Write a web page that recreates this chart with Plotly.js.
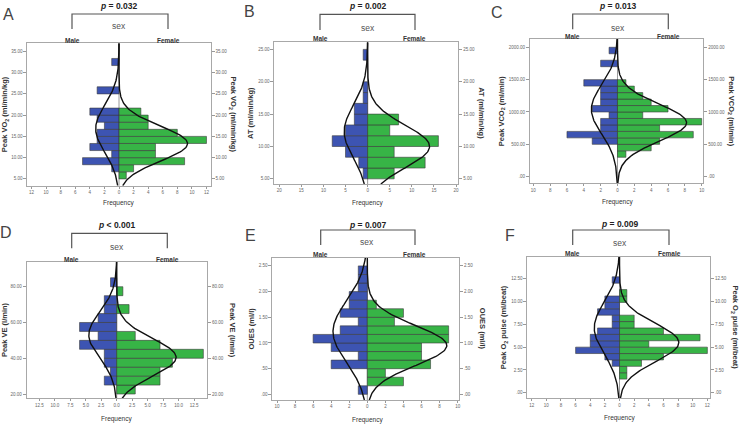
<!DOCTYPE html>
<html>
<head>
<meta charset="utf-8">
<script src="https://cdn.plot.ly/plotly-3.0.1.min.js"></script>
<style>html,body{margin:0;padding:0;background:#fff}#chart{width:741px;height:426px}</style>
</head>
<body>
<div id="chart"></div>
<script>
// A: Peak VO2 (ml/min/kg), bin centres and counts
const aBins = [5.83, 7.5, 9.17, 10.83, 12.5, 14.17, 15.83, 17.5, 19.17, 20.83, 22.5, 24.17, 25.83, 27.5, 29.17, 30.83, 32.5];
const aMale = [0, 1, 5, 1, 4, 3, 3, 2, 3, 4, 0, 0, 3, 0, 0, 0, 1];
const aFemale = [1, 2, 9, 5, 5, 12, 8, 4, 4, 3, 0, 0, 0, 0, 0, 0, 0];
// normal fit: mean, sd, peak height
const aMaleFit = [16.8, 5.6, 3.2];
const aFemaleFit = [13.3, 4.1, 9.4];

// B: AT (ml/min/kg)
const bBins = [5.83, 7.5, 9.17, 10.83, 12.5, 14.17, 15.83, 17.5, 19.17, 20.83, 22.5, 24.17];
const bMale = [1, 2, 5, 8, 5, 3, 3, 1, 1, 0, 0, 1];
const bFemale = [6, 13, 6, 16, 5, 7, 0, 0, 0, 0, 0, 0];
const bMaleFit = [12.3, 4.1, 5.3];
const bFemaleFit = [10.0, 3.3, 14.0];

// C: Peak VCO2 (ml/min)
const cBins = [350, 450, 550, 650, 750, 850, 950, 1050, 1150, 1250, 1350, 1450, 1550, 1650, 1750, 1850, 1950];
const cMale = [0, 0, 3, 6, 2, 2, 1, 3, 2, 2, 2, 4, 0, 0, 2, 0, 1];
const cFemale = [1, 4, 5, 9, 5, 10, 3, 6, 4, 3, 2, 1, 0, 0, 0, 0, 0];
const cMaleFit = [1040, 380, 3.1];
const cFemaleFit = [835, 285, 8.2];

// D: Peak VE (l/min)
const dBins = [22.5, 27.5, 32.5, 37.5, 42.5, 47.5, 52.5, 57.5, 62.5, 67.5, 72.5, 77.5, 82.5];
const dMale = [0, 2, 1, 2, 2, 6, 3, 6, 3, 2, 2, 0, 1];
const dFemale = [3, 7, 7, 9, 14, 7, 3, 0, 0, 2, 0, 1, 0];
const dMaleFit = [53, 13, 4.5];
const dFemaleFit = [40.5, 10.5, 9.6];

// E: OUES (ml/l)
const eBins = [0.083, 0.25, 0.417, 0.583, 0.75, 0.917, 1.083, 1.25, 1.417, 1.583, 1.75, 1.917, 2.083, 2.25, 2.417];
const eMale = [1, 0, 0, 4, 1, 4, 6, 3, 1, 3, 2, 2, 1, 1, 1];
const eFemale = [0, 4, 2, 7, 6, 6, 9, 9, 3, 4, 1, 0, 0, 0, 0];
const eMaleFit = [1.22, 0.6, 3.8];
const eFemaleFit = [0.95, 0.39, 8.8];

// F: Peak O2 pulse (ml/beat)
const fBins = [1.85, 2.55, 3.25, 3.95, 4.65, 5.35, 6.05, 6.75, 7.45, 8.15, 8.85, 9.55, 10.25, 10.95, 11.65, 12.35];
const fMale = [0, 0, 1, 2, 6, 4, 4, 3, 1, 1, 3, 2, 2, 0, 0, 1];
const fFemale = [1, 1, 3, 6, 12, 4, 11, 6, 2, 2, 0, 0, 1, 1, 0, 0];
const fMaleFit = [7.1, 2.85, 3.45];
const fFemaleFit = [5.5, 2.1, 8.1];

// tick labels
const aYTicks = [5, 10, 15, 20, 25, 30, 35];
const aYText = ['5.00', '10.00', '15.00', '20.00', '25.00', '30.00', '35.00'];
const aXTicks = [-12, -10, -8, -6, -4, -2, 0, 2, 4, 6, 8, 10, 12];
const aXText = ['12', '10', '8', '6', '4', '2', '0', '2', '4', '6', '8', '10', '12'];
const bYTicks = [5, 10, 15, 20, 25];
const bYText = ['5.00', '10.00', '15.00', '20.00', '25.00'];
const bXTicks = [-20, -15, -10, -5, 0, 5, 10, 15, 20];
const bXText = ['20', '15', '10', '5', '0', '5', '10', '15', '20'];
const cYTicks = [0, 500, 1000, 1500, 2000];
const cYText = ['.00', '500.00', '1000.00', '1500.00', '2000.00'];
const cXTicks = [-10, -8, -6, -4, -2, 0, 2, 4, 6, 8, 10];
const cXText = ['10', '8', '6', '4', '2', '0', '2', '4', '6', '8', '10'];
const dYTicks = [20, 40, 60, 80];
const dYText = ['20.00', '40.00', '60.00', '80.00'];
const dXTicks = [-12.5, -10, -7.5, -5, -2.5, 0, 2.5, 5, 7.5, 10, 12.5];
const dXText = ['12.5', '10.0', '7.5', '5.0', '2.5', '0.0', '2.5', '5.0', '7.5', '10.0', '12.5'];
const eYTicks = [0, 0.5, 1, 1.5, 2, 2.5];
const eYText = ['.00', '.50', '1.00', '1.50', '2.00', '2.50'];
const eXTicks = [-10, -8, -6, -4, -2, 0, 2, 4, 6, 8, 10];
const eXText = ['10', '8', '6', '4', '2', '0', '2', '4', '6', '8', '10'];
const fYTicks = [0, 2.5, 5, 7.5, 10, 12.5];
const fYText = ['.00', '2.50', '5.00', '7.50', '10.00', '12.50'];
const fXTicks = [-12, -10, -8, -6, -4, -2, 0, 2, 4, 6, 8, 10, 12];
const fXText = ['12', '10', '8', '6', '4', '2', '0', '2', '4', '6', '8', '10', '12'];

const W = 741, H = 426;
const px = v => v / W;
const py = v => 1 - v / H;
const BLUE = '#3d54b2', GREEN = '#37b446', FONT = 'Liberation Sans, Arial, sans-serif';

const panels = [
  {letter: 'A', title: 'Peak VO<sub>2</sub> (ml/min/kg)', p: '= 0.032', bins: aBins, male: aMale, female: aFemale, mFit: aMaleFit, fFit: aFemaleFit, bw: 1.667,
   yt: aYTicks, ytx: aYText, xt: aXTicks, xtx: aXText, xr: [-12.58, 12.58], yr: [3.4, 36.9],
   box: [27.3, 43.3, 210.7, 185.7], mid: 119, top: 6, brL: 72, brR: 168, brY: 14, brB: 29, sexY: 26.5, mfY: 40.5, let: [8, 14], tr: 233, freqY: 203},
  {letter: 'B', title: 'AT (ml/min/kg)', p: '= 0.002', bins: bBins, male: bMale, female: bFemale, mFit: bMaleFit, fFit: bFemaleFit, bw: 1.667,
   yt: bYTicks, ytx: bYText, xt: bXTicks, xtx: bXText, xr: [-21.1, 20.5], yr: [4.2, 26.1],
   box: [274.3, 42.3, 458.3, 184], mid: 367.7, top: 6, brL: 320, brR: 415, brY: 14.3, brB: 30, sexY: 28, mfY: 38.5, let: [249, 12], tr: 482, freqY: 203},
  {letter: 'C', title: 'Peak VCO<sub>2</sub> (ml/min)', p: '= 0.013', bins: cBins, male: cMale, female: cFemale, mFit: cMaleFit, fFit: cFemaleFit, bw: 100,
   yt: cYTicks, ytx: cYText, xt: cXTicks, xtx: cXText, xr: [-10.39, 10.19], yr: [-102, 2128],
   box: [530, 39, 703.3, 183.3], mid: 617.5, top: 6, brL: 572.7, brR: 668.3, brY: 14, brB: 29.3, sexY: 28, mfY: 36.5, let: [497, 13], tr: 731, freqY: 202},
  {letter: 'D', title: 'Peak VE (l/min)', p: '< 0.001', bins: dBins, male: dMale, female: dFemale, mFit: dMaleFit, fFit: dFemaleFit, bw: 5,
   yt: dYTicks, ytx: dYText, xt: dXTicks, xtx: dXText, xr: [-14.54, 14.59], yr: [17.6, 94],
   box: [26.7, 261.7, 207, 398.3], mid: 116.7, top: 225, brL: 71.7, brR: 167.3, brY: 233.3, brB: 248.3, sexY: 246.5, mfY: 259, let: [6, 232], tr: 233, freqY: 419},
  {letter: 'E', title: 'OUES (ml/l)', p: '= 0.007', bins: eBins, male: eMale, female: eFemale, mFit: eMaleFit, fFit: eFemaleFit, bw: 0.1667,
   yt: eYTicks, ytx: eYText, xt: eXTicks, xtx: eXText, xr: [-10.52, 10.15], yr: [-0.11, 2.66],
   box: [272.3, 257.7, 459, 400], mid: 367.3, top: 225, brL: 320.7, brR: 415, brY: 230, brB: 245, sexY: 242.5, mfY: 254.3, let: [250, 235], tr: 482, freqY: 420},
  {letter: 'F', title: 'Peak O<sub>2</sub> pulse (ml/beat)', p: '= 0.009', bins: fBins, male: fMale, female: fFemale, mFit: fMaleFit, fFit: fFemaleFit, bw: 0.7,
   yt: fYTicks, ytx: fYText, xt: fXTicks, xtx: fXText, xr: [-12.6, 12.36], yr: [-0.6, 14.9],
   box: [527.3, 256.7, 710, 398.3], mid: 619.5, top: 224, brL: 572.7, brR: 669, brY: 230, brB: 245, sexY: 243, mfY: 254, let: [510, 235], tr: 735, freqY: 418.3}
];

const traces = [];
const layout = {
  width: W, height: H, autosize: false, showlegend: false,
  margin: {l: 0, r: 0, t: 0, b: 0},
  paper_bgcolor: '#fff', plot_bgcolor: '#fff',
  barmode: 'overlay',
  font: {family: FONT, color: '#333'},
  annotations: [], shapes: []
};

function txt(x, y, text, size, weight, color, extra) {
  layout.annotations.push(Object.assign({
    xref: 'paper', yref: 'paper', x: px(x), y: py(y), text: text, showarrow: false,
    xanchor: 'center', yanchor: 'middle',
    font: {family: FONT, size: size, color: color || '#333', weight: weight || 'normal'}
  }, extra || {}));
}

function curve(ys, fit, sign) {
  return ys.map(y => sign * fit[2] * Math.exp(-0.5 * Math.pow((y - fit[0]) / fit[1], 2)));
}

panels.forEach((p, i) => {
  const xa = i === 0 ? 'x' : 'x' + (i + 1);
  const yl = i === 0 ? 'y' : 'y' + (2 * i + 1);
  const yr = 'y' + (2 * i + 2);
  const xKey = xa.replace('x', 'xaxis'), ylKey = yl.replace('y', 'yaxis'), yrKey = yr.replace('y', 'yaxis');
  const [l, t, r, b] = p.box;

  const axFont = {family: FONT, size: 4.5, color: '#666'};
  layout[xKey] = {
    domain: [px(l), px(r)], anchor: yl, range: p.xr, tickvals: p.xt, ticktext: p.xtx,
    ticks: 'outside', ticklen: 2, tickcolor: '#999', tickfont: axFont,
    showline: true, linecolor: '#a8a8a8', linewidth: 1, mirror: true,
    showgrid: false, zeroline: false, fixedrange: true
  };
  const yBase = {
    range: p.yr, tickvals: p.yt, ticktext: p.ytx, ticks: 'outside', ticklen: 3, tickcolor: '#999',
    tickfont: axFont, showline: true, linecolor: '#a8a8a8', linewidth: 1,
    showgrid: false, zeroline: false, fixedrange: true, anchor: xa
  };
  layout[ylKey] = Object.assign({domain: [py(b), py(t)],
    title: {text: p.title, font: {family: FONT, size: 7.5, color: '#333', weight: 'bold'}, standoff: 3}}, yBase);
  layout[yrKey] = Object.assign({overlaying: yl, side: 'right'}, yBase);

  const mIdx = p.bins.map((v, k) => k).filter(k => p.male[k] > 0);
  const fIdx = p.bins.map((v, k) => k).filter(k => p.female[k] > 0);
  traces.push({
    type: 'bar', orientation: 'h', xaxis: xa, yaxis: yl, width: p.bw,
    y: mIdx.map(k => p.bins[k]), x: mIdx.map(k => -p.male[k]),
    marker: {color: BLUE, line: {color: '#3a3a3a', width: 0.6}}, hoverinfo: 'skip'
  });
  traces.push({
    type: 'bar', orientation: 'h', xaxis: xa, yaxis: yr, width: p.bw,
    y: fIdx.map(k => p.bins[k]), x: fIdx.map(k => p.female[k]),
    marker: {color: GREEN, line: {color: '#3a3a3a', width: 0.6}}, hoverinfo: 'skip'
  });

  const ys = [];
  for (let k = 0; k <= 160; k++) ys.push(p.yr[0] + (p.yr[1] - p.yr[0]) * k / 160);
  traces.push({type: 'scatter', mode: 'lines', xaxis: xa, yaxis: yl, y: ys, x: curve(ys, p.mFit, -1),
    line: {color: '#111', width: 1.4}, hoverinfo: 'skip'});
  traces.push({type: 'scatter', mode: 'lines', xaxis: xa, yaxis: yr, y: ys, x: curve(ys, p.fFit, 1),
    line: {color: '#111', width: 1.4}, hoverinfo: 'skip'});

  // zero line
  layout.shapes.push({type: 'line', xref: xa, yref: yl + ' domain', x0: 0, x1: 0, y0: 0, y1: 1,
    line: {color: '#9a9a9a', width: 1}, layer: 'below'});
  // bracket
  layout.shapes.push({type: 'path', xref: 'paper', yref: 'paper',
    path: `M ${px(p.brL)},${py(p.brB)} L ${px(p.brL)},${py(p.brY)} L ${px(p.brR)},${py(p.brY)} L ${px(p.brR)},${py(p.brB)}`,
    line: {color: '#555', width: 1.2}});

  const cy = (t + b) / 2;
  txt(p.mid, p.top, '<i>p</i> ' + p.p, 8.5, 'bold', '#222');
  txt(p.mid, p.sexY, 'sex', 8.5, 'normal', '#555');
  txt(p.brL, p.mfY, 'Male', 6.5, 'bold');
  txt(p.brR, p.mfY, 'Female', 6.5, 'bold');
  txt(p.let[0], p.let[1], p.letter, 16, 'normal', '#444');
  txt(p.tr, cy, p.title, 7.5, 'bold', '#333', {textangle: 90});
  txt(p.mid, p.freqY, 'Frequency', 6.5, 'normal', '#333');
});

Plotly.newPlot('chart', traces, layout, {staticPlot: true, displayModeBar: false});
</script>
</body>
</html>
